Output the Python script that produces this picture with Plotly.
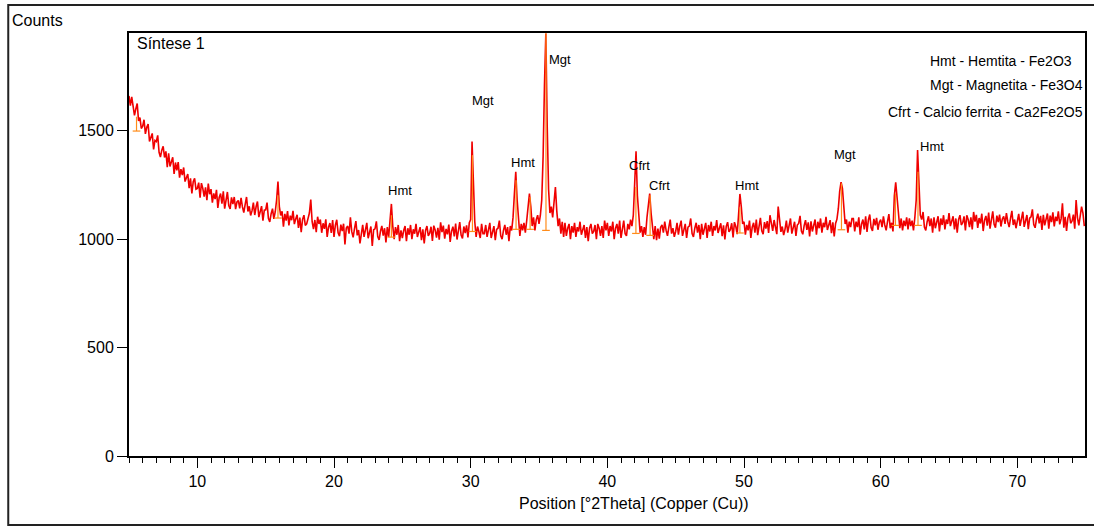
import numpy as np
import plotly.graph_objects as go

# ---- XRD scan (step 0.1 deg 2-theta, starting at 5.0) ----
start_2theta = 5.0
step_2theta = 0.1

counts_05_15 = [
    1660, 1615, 1655, 1605, 1570, 1600, 1625, 1545, 1560, 1510,
    1520, 1550, 1485, 1515, 1530, 1450, 1470, 1487, 1413, 1455,
    1450, 1478, 1400, 1378, 1410, 1428, 1376, 1404, 1332, 1395,
    1335, 1363, 1377, 1300, 1353, 1317, 1355, 1283, 1322, 1295,
    1330, 1265, 1285, 1300, 1235, 1280, 1210, 1265, 1280, 1230,
    1233, 1260, 1191, 1258, 1234, 1196, 1238, 1179, 1256, 1207,
    1230, 1168, 1211, 1184, 1227, 1144, 1192, 1210, 1163, 1220,
    1140, 1193, 1217, 1155, 1139, 1192, 1161, 1194, 1138, 1171,
    1178, 1141, 1190, 1148, 1122, 1160, 1194, 1127, 1151, 1109,
    1130, 1168, 1111, 1149, 1173, 1101, 1129, 1152, 1085, 1133,
]
counts_15_25 = [
    1135, 1168, 1096, 1079, 1117, 1140, 1093, 1126, 1180, 1265,
    1150, 1109, 1128, 1057, 1116, 1085, 1129, 1063, 1108, 1087,
    1130, 1069, 1093, 1112, 1051, 1099, 1032, 1091, 1110, 1063,
    1070, 1098, 1120, 1182, 1080, 1046, 1088, 1032, 1103, 1070,
    1090, 1029, 1073, 1047, 1091, 1010, 1055, 1074, 1029, 1088,
    1010, 1064, 1089, 1029, 1013, 1067, 1037, 1071, 975, 1051,
    1060, 1025, 1100, 1034, 1008, 1048, 1083, 1017, 1042, 980,
    1026, 1066, 1010, 1050, 1075, 1004, 1034, 1058, 968, 1043,
    1047, 1082, 1012, 996, 1036, 1061, 1016, 1050, 985, 1055,
    1010, 1095, 1162, 1060, 1000, 1055, 1020, 1065, 990, 1040,
]
counts_25_35 = [
    1005, 1040, 1060, 990, 1050, 1020, 1065, 1000, 1045, 1025,
    1070, 1010, 1035, 1055, 995, 1045, 980, 1040, 1060, 1015,
    1027, 1057, 992, 1062, 1042, 1007, 1052, 997, 1077, 1032,
    1062, 1002, 1047, 1022, 1067, 987, 1037, 1057, 1012, 1072,
    998, 1053, 1078, 1018, 1003, 1058, 1028, 1063, 1008, 1075,
    1090, 1450, 1280, 1080, 1010, 1058, 1035, 1005, 1070, 1025,
    1025, 1065, 1010, 1050, 1075, 1005, 1035, 1060, 995, 1045,
    1050, 1085, 1015, 1000, 1040, 1065, 1020, 1055, 990, 1060,
    1040, 1100, 1210, 1310, 1180, 1090, 1015, 1070, 1040, 1075,
    1030, 1085, 1140, 1210, 1150, 1060, 1100, 1040, 1090, 1110,
]
counts_35_45 = [
    1070, 1110, 1180, 1380, 1710, 1948, 1520, 1230, 1120, 1150,
    1100, 1160, 1240, 1130, 1060, 1095, 1025, 1080, 1010, 1075,
    1015, 1050, 1070, 1000, 1060, 1030, 1075, 1010, 1055, 1035,
    1080, 1020, 1045, 1065, 1005, 1055, 990, 1050, 1070, 1025,
    1035, 1065, 1000, 1070, 1050, 1015, 1060, 1005, 1085, 1040,
    1075, 1015, 1060, 1035, 1080, 1000, 1050, 1070, 1025, 1085,
    1005, 1060, 1085, 1025, 1015, 1070, 1045, 1090, 1060, 1110,
    1250, 1405, 1200, 1090, 1030, 1060, 1010, 1055, 1020, 1100,
    1150, 1210, 1120, 1050, 1000, 1060, 995, 1048, 1002, 1055,
    1065, 1030, 1080, 1040, 1015, 1055, 1090, 1025, 1050, 1010,
]
counts_45_55 = [
    1035, 1075, 1020, 1060, 1085, 1015, 1045, 1070, 1005, 1055,
    1060, 1095, 1025, 1010, 1050, 1075, 1030, 1065, 1000, 1070,
    1020, 1055, 1075, 1005, 1065, 1035, 1080, 1015, 1060, 1040,
    1088, 1028, 1053, 1073, 1013, 1063, 998, 1058, 1078, 1033,
    1043, 1073, 1008, 1078, 1058, 1023, 1110, 1208, 1150, 1070,
    1080, 1020, 1065, 1040, 1085, 1005, 1055, 1075, 1030, 1090,
    1018, 1073, 1098, 1038, 1023, 1078, 1048, 1083, 1028, 1110,
    1073, 1038, 1088, 1048, 1023, 1150, 1098, 1033, 1058, 1018,
    1045, 1085, 1030, 1070, 1095, 1025, 1055, 1080, 1015, 1065,
    1072, 1107, 1037, 1022, 1062, 1087, 1042, 1077, 1012, 1082,
]
counts_55_65 = [
    1035, 1070, 1090, 1020, 1080, 1050, 1095, 1030, 1075, 1055,
    1102, 1042, 1067, 1087, 1027, 1077, 1012, 1072, 1092, 1140,
    1220, 1262, 1235, 1150, 1070, 1090, 1030, 1080, 1055, 1095,
    1095, 1035, 1080, 1055, 1100, 1020, 1070, 1090, 1045, 1105,
    1033, 1088, 1113, 1053, 1038, 1093, 1063, 1098, 1043, 1078,
    1090, 1055, 1105, 1065, 1040, 1080, 1115, 1050, 1075, 1035,
    1200, 1262, 1180, 1100, 1050, 1095, 1040, 1085, 1060, 1100,
    1045, 1095, 1060, 1085, 1040, 1100, 1180, 1410, 1250, 1110,
    1090, 1125, 1055, 1040, 1080, 1105, 1060, 1095, 1030, 1100,
    1050, 1085, 1105, 1035, 1095, 1065, 1110, 1045, 1090, 1070,
]
counts_65_75 = [
    1120, 1060, 1085, 1105, 1045, 1095, 1030, 1090, 1110, 1065,
    1075, 1105, 1040, 1110, 1090, 1055, 1100, 1045, 1125, 1080,
    1112, 1052, 1097, 1072, 1117, 1037, 1087, 1107, 1062, 1122,
    1048, 1103, 1128, 1068, 1053, 1108, 1078, 1113, 1058, 1093,
    1105, 1070, 1120, 1080, 1055, 1095, 1130, 1065, 1090, 1050,
    1076, 1116, 1061, 1101, 1126, 1056, 1086, 1111, 1046, 1096,
    1102, 1137, 1067, 1052, 1092, 1117, 1072, 1107, 1042, 1112,
    1063, 1098, 1118, 1048, 1108, 1078, 1123, 1058, 1103, 1083,
    1128, 1068, 1093, 1165, 1053, 1103, 1038, 1098, 1118, 1073,
    1083, 1113, 1048, 1180, 1098, 1063, 1108, 1150, 1120, 1060,
]

# ---- peak list (reference sticks: position, background, top) ----
peak_pos = [5.55, 15.9, 24.2, 30.13, 33.32, 34.35, 35.51, 42.09, 43.13, 49.7, 57.13, 61.08, 62.73]
peak_base = [1498, 1097, 1009, 1035, 1045, 1045, 1040, 1026, 1017, 1028, 1043, 1063, 1063]
peak_top = [1564, 1202, 1110, 1387, 1271, 1194, 1950, 1240, 1202, 1147, 1257, 1211, 1310]

# ---- phase labels ----
label_text = ["Hmt", "Mgt", "Hmt", "Mgt", "Cfrt", "Cfrt", "Hmt", "Mgt", "Hmt"]
label_2theta = [24.80, 30.93, 33.85, 36.56, 42.33, 43.79, 50.22, 57.38, 63.73]
label_counts = [1226, 1637, 1351, 1830, 1337, 1245, 1249, 1392, 1429]

phase_legend = [
    "Hmt - Hemtita - Fe2O3",
    "Mgt - Magnetita - Fe3O4",
    "Cfrt - Calcio ferrita - Ca2Fe2O5",
]

# ---- layout geometry (pixels) ----
W, H = 1094, 527
ML, MR, MT, MB = 129, 7, 33, 71
PW, PH = W - ML - MR, H - MT - MB
FONT = "Liberation Sans, Arial, sans-serif"


def px(xp):
    return (xp - ML) / PW


def py(yp):
    return (H - MB - yp) / PH


counts = np.array(counts_05_15 + counts_15_25 + counts_25_35 + counts_35_45
                  + counts_45_55 + counts_55_65 + counts_65_75, dtype=float)
two_theta = np.round(start_2theta + step_2theta * np.arange(len(counts)), 2)

# sticks drawn as an inverted "T": short background bar plus vertical line
half_w = 0.28
stick_x, stick_y = [], []
for p, b, t in zip(peak_pos, peak_base, peak_top):
    stick_x += [p - half_w, p + half_w, None, p, p, None]
    stick_y += [b, b, None, b, t, None]

fig = go.Figure()
fig.add_trace(go.Scatter(x=two_theta, y=counts, mode="lines",
                         line=dict(color="#f00000", width=1.6), hoverinfo="x+y"))
fig.add_trace(go.Scatter(x=stick_x, y=stick_y, mode="lines",
                         line=dict(color="#ff8c1a", width=1.2), hoverinfo="skip"))

ann = []
for t, xv, yv in zip(label_text, label_2theta, label_counts):
    ann.append(dict(x=xv, y=yv, xref="x", yref="y", text=t, showarrow=False,
                    xanchor="center", yanchor="middle",
                    font=dict(size=13, color="black", family=FONT)))

legend_left = [930, 930, 888]
legend_mid = [61, 85, 112]
for t, lx, ly in zip(phase_legend, legend_left, legend_mid):
    ann.append(dict(x=px(lx), y=py(ly), xref="paper", yref="paper", text=t,
                    showarrow=False, xanchor="left", yanchor="middle",
                    font=dict(size=14, color="black", family=FONT)))

ann.append(dict(x=px(135), y=py(43), xref="paper", yref="paper", text="Síntese 1",
                showarrow=False, xanchor="left", yanchor="middle",
                font=dict(size=16, color="black", family=FONT)))
ann.append(dict(x=px(10), y=py(21), xref="paper", yref="paper", text="Counts",
                showarrow=False, xanchor="left", yanchor="middle",
                font=dict(size=16, color="black", family=FONT)))
ann.append(dict(x=px(635.5), y=py(503), xref="paper", yref="paper",
                text="Position [°2Theta] (Copper (Cu))",
                showarrow=False, xanchor="center", yanchor="middle",
                font=dict(size=16, color="black", family=FONT)))

# outer frame around the whole figure
shapes = [dict(type="rect", xref="paper", yref="paper",
               x0=px(8), x1=px(1100), y0=py(525), y1=py(5),
               line=dict(color="#222222", width=2), fillcolor="rgba(0,0,0,0)",
               layer="above")]

fig.update_layout(
    width=W, height=H,
    margin=dict(l=ML, r=MR, t=MT, b=MB, pad=0),
    paper_bgcolor="white", plot_bgcolor="white",
    showlegend=False,
    font=dict(family=FONT, size=16, color="black"),
    annotations=ann, shapes=shapes,
)
fig.update_xaxes(
    range=[5, 74.95], tickvals=[10, 20, 30, 40, 50, 60, 70],
    ticks="outside", ticklen=10, tickwidth=1, tickcolor="black",
    minor=dict(dtick=1, tick0=0, ticks="outside", ticklen=5, tickwidth=1, tickcolor="black"),
    showline=True, linecolor="black", linewidth=2, mirror=True,
    showgrid=False, zeroline=False, tickfont=dict(size=16),
)
fig.update_yaxes(
    range=[0, 1950], tickvals=[0, 500, 1000, 1500],
    ticks="outside", ticklen=10, tickwidth=1, tickcolor="black",
    showline=True, linecolor="black", linewidth=2, mirror=True,
    showgrid=False, zeroline=False, tickfont=dict(size=16),
)

fig.write_html("out.html")
